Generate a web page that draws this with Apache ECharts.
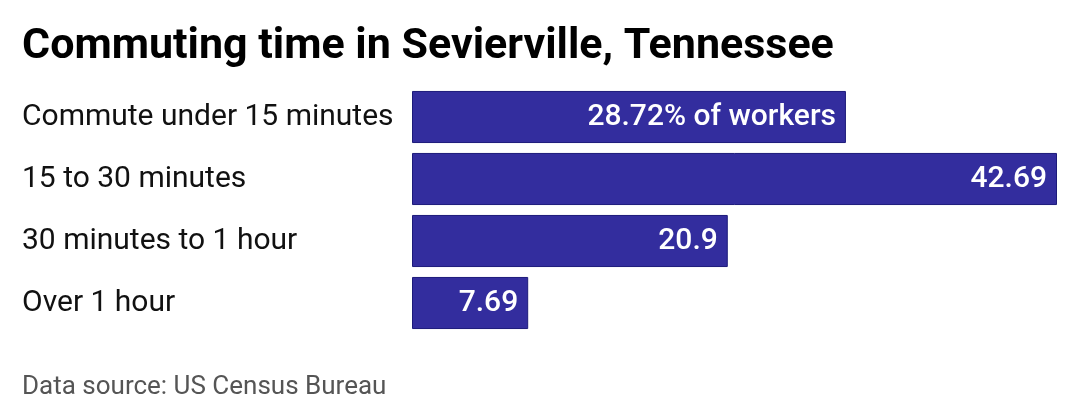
<!DOCTYPE html>
<html>
<head>
<meta charset="utf-8">
<script src="https://cdn.jsdelivr.net/npm/echarts@6/dist/echarts.min.js"></script>
<style>
  html, body { margin: 0; padding: 0; background: #fff; }
  #chart { width: 1080px; height: 420px; }
</style>
</head>
<body>
<div id="chart"></div>
<script>
// commute share by travel time, percent of workers
const categories = ['Commute under 15 minutes', '15 to 30 minutes', '30 minutes to 1 hour', 'Over 1 hour']
const values = [28.72, 42.69, 20.9, 7.69]

const chart = echarts.init(document.getElementById('chart'))

chart.setOption({
  backgroundColor: '#fff',
  animation: false,
  title: [{
    text: 'Commuting time in Sevierville, Tennessee',
    left: 17,
    top: 21,
    textStyle: { fontFamily: 'Roboto', fontWeight: 'bold', fontSize: 43, color: '#000' }
  }, {
    text: 'Data source: US Census Bureau',
    left: 17,
    top: 369,
    textStyle: { fontFamily: 'Roboto', fontWeight: 'normal', fontSize: 26, color: '#555' }
  }],
  grid: { left: 412, right: 23, top: 86, bottom: 86 },
  xAxis: {
    type: 'value',
    min: 0,
    max: 42.69,
    show: false
  },
  yAxis: {
    type: 'category',
    inverse: true,
    data: categories,
    axisLine: { show: false },
    axisTick: { show: false },
    axisLabel: {
      align: 'left',
      margin: 390,
      fontFamily: 'Roboto',
      fontSize: 30,
      color: '#111'
    }
  },
  series: [{
    type: 'bar',
    data: values,
    barCategoryGap: '16%',
    itemStyle: { color: '#332d9e', borderColor: '#1c1a7a', borderWidth: 1 },
    label: {
      show: true,
      position: 'insideRight',
      distance: 10,
      fontFamily: 'Roboto',
      fontWeight: 500,
      fontSize: 30,
      color: '#fff',
      formatter: p => p.dataIndex === 0 ? p.value + '% of workers' : String(p.value)
    }
  }]
})
</script>
</body>
</html>
